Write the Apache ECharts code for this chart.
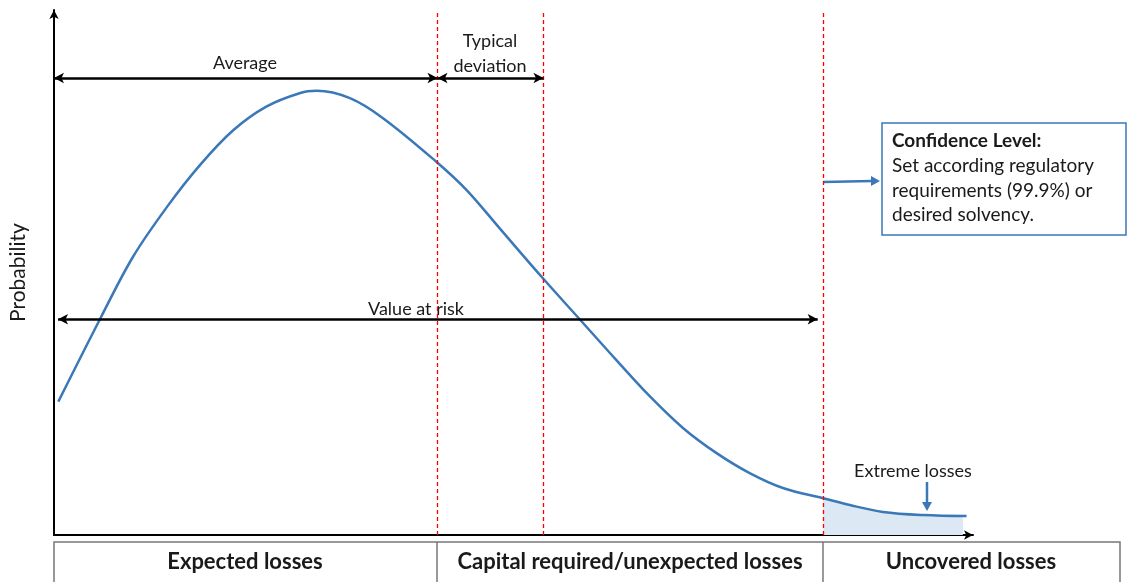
<!DOCTYPE html>
<html><head><meta charset="utf-8">
<script src="https://cdn.jsdelivr.net/npm/echarts@6/dist/echarts.min.js"></script>
<style>html,body{margin:0;padding:0;background:#fff}#c{width:1128px;height:582px}</style>
</head><body><div id="c"></div>
<script>
// Loss distribution curve (x: loss, y: probability)
const lossX = [0.47, 5.0, 8.6, 12.3, 15.9, 19.5, 23.1, 26.8, 28.6, 32.2, 35.8, 41.6, 44.9, 48.5, 53.2, 57.2, 61.2, 64.9, 68.5, 72.1, 75.7, 79.4, 83.7, 86.6, 90.2, 94.6, 99.3];
const probY = [25.4, 41.1, 53.0, 62.5, 70.5, 77.1, 81.6, 84.2, 84.6, 83.2, 79.4, 71.1, 65.7, 58.4, 48.9, 41.1, 33.3, 26.3, 20.3, 15.6, 11.8, 8.9, 7.0, 5.7, 4.4, 3.8, 3.6];
const tailX = [83.7, 86.6, 90.2, 94.6, 98.9];
const tailY = [7.0, 5.7, 4.4, 3.8, 3.6];
const markers = [41.73, 53.26, 83.73]; // average, average+deviation, confidence level
const arrowY = 87.05; const varY = 41.1; const varStart = 0.44; const varEnd = 83.1;
const bands = ['Expected losses', 'Capital required/unexpected losses', 'Uncovered losses'];

const FONT = 'Lato';
const chart = echarts.init(document.getElementById('c'));
const curve = lossX.map((x, i) => [x, probY[i]]);
const tail = tailX.map((x, i) => [x, tailY[i]]);
const axisLine = {show: true, symbol: ['none', 'arrow'], symbolSize: [7, 9], lineStyle: {color: '#000', width: 2}};
const arrowLine = (x1, x2, y) => [{coord: [x1, y]}, {coord: [x2, y]}];
const txt = (text, x, y, size, bold, align) => ({type: 'text', x, y, style: {text, font: (bold ? 'bold ' : '') + size + 'px ' + FONT,
  fill: '#1a1a1a', align: align || 'center', verticalAlign: 'middle'}});

chart.setOption({
  animation: false,
  grid: {left: 54, right: 155, top: 10, bottom: 47},
  xAxis: {type: 'value', min: 0, max: 100, axisLine, axisTick: {show: false}, axisLabel: {show: false}, splitLine: {show: false}},
  yAxis: {type: 'value', min: 0, max: 100, axisLine, axisTick: {show: false}, axisLabel: {show: false}, splitLine: {show: false},
    name: 'Probability', nameLocation: 'middle', nameGap: 25, nameRotate: 90,
    nameTextStyle: {fontFamily: FONT, fontSize: 21, color: '#1a1a1a'}},
  series: [
    {type: 'line', data: tail, smooth: 0.35, symbol: 'none', lineStyle: {width: 0}, areaStyle: {color: '#dce8f4', opacity: 1}, z: 1},
    {type: 'line', data: [], color: '#ff0000', z: 2,
      markLine: {silent: true, symbol: 'none', label: {show: false},
        lineStyle: {color: '#ff0000', type: [4, 3], width: 1.3, opacity: 1},
        emphasis: {disabled: true},
        data: markers.map(m => ({xAxis: m, lineStyle: {color: '#ff0000'}}))}},
    {type: 'line', data: curve, smooth: 0.35, symbol: 'none', lineStyle: {color: '#3a78b8', width: 2.5}, z: 3},
    {type: 'line', data: [], markLine: {silent: true, symbol: ['arrow', 'arrow'], symbolSize: [8, 10], label: {show: false},
      lineStyle: {color: '#000', type: 'solid', width: 2.5},
      data: [arrowLine(0, markers[0], arrowY), arrowLine(markers[0], markers[1], arrowY), arrowLine(varStart, varEnd, varY)]}},
  ],
  graphic: [
    txt('Average', 245, 63, 18),
    txt('Typical', 490, 41, 18),
    txt('deviation', 490, 66, 18),
    txt('Value at risk', 416, 309, 18),
    txt('Extreme losses', 913, 471, 18),
    // down arrow to tail
    {type: 'line', shape: {x1: 927, y1: 482, x2: 927, y2: 503}, style: {stroke: '#3a78b8', lineWidth: 2.5}},
    {type: 'polygon', shape: {points: [[922, 502], [932, 502], [927, 511]]}, style: {fill: '#3a78b8'}},
    // arrow to confidence box
    {type: 'line', shape: {x1: 823, y1: 182, x2: 872, y2: 181}, style: {stroke: '#3a78b8', lineWidth: 2.5}},
    {type: 'polygon', shape: {points: [[871, 176], [871, 186], [880, 181]]}, style: {fill: '#3a78b8'}},
    // confidence box
    {type: 'rect', shape: {x: 882, y: 123, width: 244, height: 112}, style: {fill: '#fff', stroke: '#3a78b8', lineWidth: 1.5}},
    txt('Confidence Level:', 892, 141, 19, true, 'left'),
    txt('Set according regulatory', 892, 166, 19, false, 'left'),
    txt('requirements (99.9%) or', 892, 191, 19, false, 'left'),
    txt('desired solvency.', 892, 215, 19, false, 'left'),
    // bottom table
    {type: 'rect', shape: {x: 54, y: 542, width: 1066, height: 45}, style: {fill: '#fff', stroke: '#777', lineWidth: 1.5}},
    {type: 'line', shape: {x1: 437, y1: 542, x2: 437, y2: 582}, style: {stroke: '#777', lineWidth: 1.5}},
    {type: 'line', shape: {x1: 823, y1: 542, x2: 823, y2: 582}, style: {stroke: '#777', lineWidth: 1.5}},
    txt(bands[0], 245, 562, 22, true),
    txt(bands[1], 630, 562, 22, true),
    txt(bands[2], 971, 562, 22, true),
  ]
});
</script></body></html>
